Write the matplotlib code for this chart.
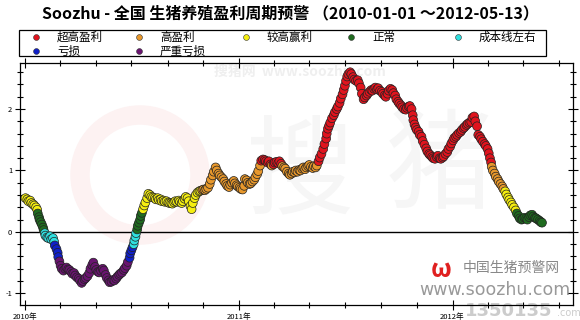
import numpy as np
import pandas as pd
import matplotlib
matplotlib.use("Agg")
import matplotlib.pyplot as plt
import matplotlib.dates as mdates
from matplotlib.patches import Rectangle, Ellipse

plt.rcParams['font.family'] = ['Noto Sans CJK SC', 'DejaVu Sans']
plt.rcParams['axes.unicode_minus'] = False

# ── Data ──────────────────────────────────────────────────────────────────────
START = pd.Timestamp("2010-01-01")

day_offsets = [
    0, 3, 5, 8, 10, 13, 15, 18, 20, 21, 23, 24, 26, 28, 30, 31, 33, 34, 37, 39,
    42, 44, 47, 49, 50, 53, 55, 56, 58, 60, 62, 65, 68, 70, 73, 75, 78, 80, 83, 85,
    88, 91, 93, 96, 98, 101, 103, 106, 109, 111, 114, 116, 119, 121, 124, 126, 129, 132, 134, 137,
    139, 142, 144, 147, 150, 152, 155, 157, 160, 162, 165, 168, 170, 173, 175, 178, 179, 181, 183, 185,
    186, 188, 189, 191, 192, 194, 196, 197, 199, 201, 203, 205, 208, 210, 213, 215, 218, 221, 223, 226,
    228, 231, 233, 236, 238, 241, 244, 246, 249, 251, 254, 256, 259, 262, 264, 267, 269, 272, 274, 277,
    279, 282, 284, 286, 289, 291, 294, 297, 299, 302, 304, 307, 309, 312, 315, 317, 320, 322, 325, 327,
    330, 332, 335, 338, 340, 343, 345, 348, 350, 353, 356, 358, 361, 363, 366, 368, 371, 374, 375, 378,
    380, 383, 385, 388, 391, 393, 396, 398, 401, 403, 406, 409, 411, 414, 416, 419, 421, 424, 426, 429,
    432, 434, 437, 439, 442, 444, 447, 450, 452, 455, 457, 460, 462, 465, 468, 470, 473, 475, 478, 480,
    483, 485, 488, 491, 493, 496, 498, 501, 503, 506, 509, 511, 514, 515, 517, 519, 521, 524, 527, 529,
    532, 534, 537, 539, 542, 544, 546, 548, 550, 552, 555, 557, 560, 562, 565, 568, 570, 573, 575, 578,
    580, 583, 585, 588, 591, 593, 596, 598, 601, 603, 606, 609, 611, 614, 616, 619, 621, 624, 627, 629,
    632, 634, 637, 639, 642, 644, 647, 650, 652, 655, 657, 660, 662, 663, 665, 667, 669, 672, 674, 677,
    679, 682, 685, 687, 690, 692, 695, 697, 700, 703, 705, 708, 710, 713, 715, 718, 721, 723, 726, 728,
    731, 733, 736, 738, 741, 744, 746, 749, 751, 754, 756, 759, 762, 764, 767, 769, 772, 774, 777, 779,
    782, 785, 787, 790, 792, 794, 796, 797, 799, 802, 804, 807, 809, 812, 815, 817, 820, 822, 825, 827,
    830, 832, 835, 838, 840, 843, 845, 848, 850, 853, 856, 858, 861, 863, 866, 868, 871, 873, 876, 879,
    881, 883,
]

values = [
    0.55, 0.53, 0.50, 0.51, 0.47, 0.45, 0.43, 0.40, 0.36, 0.30, 0.24, 0.20, 0.16, 0.12, 0.07, 0.03, -0.02, -0.06, -0.09, -0.10,
    -0.07, -0.12, -0.10, -0.16, -0.22, -0.28, -0.34, -0.41, -0.48, -0.55, -0.60, -0.63, -0.60, -0.58, -0.61, -0.62, -0.65, -0.68, -0.67, -0.71,
    -0.74, -0.76, -0.79, -0.83, -0.80, -0.77, -0.75, -0.72, -0.67, -0.60, -0.54, -0.50, -0.57, -0.62, -0.65, -0.66, -0.63, -0.60, -0.63, -0.70,
    -0.75, -0.79, -0.82, -0.81, -0.78, -0.79, -0.76, -0.73, -0.70, -0.68, -0.66, -0.62, -0.59, -0.55, -0.49, -0.42, -0.35, -0.30, -0.25, -0.20,
    -0.14, -0.08, -0.02, 0.04, 0.10, 0.15, 0.20, 0.26, 0.31, 0.37, 0.43, 0.48, 0.55, 0.62, 0.60, 0.57, 0.56, 0.55, 0.53, 0.55,
    0.52, 0.53, 0.50, 0.51, 0.49, 0.50, 0.48, 0.47, 0.47, 0.46, 0.48, 0.50, 0.49, 0.51, 0.49, 0.47, 0.50, 0.54, 0.57, 0.55,
    0.50, 0.42, 0.37, 0.47, 0.55, 0.60, 0.64, 0.66, 0.67, 0.68, 0.69, 0.68, 0.70, 0.72, 0.78, 0.85, 0.92, 0.98, 1.05, 1.00,
    0.95, 0.92, 0.89, 0.86, 0.82, 0.78, 0.75, 0.73, 0.77, 0.80, 0.83, 0.79, 0.76, 0.74, 0.72, 0.70, 0.69, 0.75, 0.86, 0.84,
    0.80, 0.78, 0.79, 0.82, 0.85, 0.89, 0.94, 0.99, 1.08, 1.16, 1.18, 1.17, 1.15, 1.13, 1.15, 1.10, 1.08, 1.10, 1.13, 1.14,
    1.12, 1.15, 1.11, 1.07, 1.05, 1.03, 0.98, 0.95, 0.93, 0.95, 0.98, 0.97, 1.00, 0.98, 1.01, 1.00, 1.03, 1.05, 1.02, 1.05,
    1.07, 1.09, 1.06, 1.04, 1.07, 1.05, 1.08, 1.15, 1.21, 1.27, 1.35, 1.43, 1.52, 1.60, 1.68, 1.73, 1.78, 1.85, 1.90, 1.95,
    2.00, 2.04, 2.10, 2.17, 2.24, 2.31, 2.38, 2.46, 2.53, 2.57, 2.60, 2.57, 2.52, 2.48, 2.46, 2.47, 2.42, 2.35, 2.25, 2.16,
    2.19, 2.22, 2.25, 2.28, 2.31, 2.30, 2.33, 2.35, 2.32, 2.34, 2.30, 2.28, 2.25, 2.22, 2.20, 2.25, 2.30, 2.33, 2.31, 2.26,
    2.22, 2.16, 2.12, 2.09, 2.06, 2.03, 2.00, 1.99, 2.02, 2.04, 2.05, 2.00, 1.90, 1.82, 1.75, 1.70, 1.66, 1.63, 1.58, 1.55,
    1.48, 1.42, 1.36, 1.31, 1.27, 1.25, 1.22, 1.20, 1.19, 1.22, 1.24, 1.20, 1.19, 1.21, 1.23, 1.27, 1.30, 1.35, 1.39, 1.44,
    1.49, 1.53, 1.55, 1.58, 1.61, 1.63, 1.66, 1.69, 1.71, 1.74, 1.76, 1.78, 1.79, 1.86, 1.88, 1.80, 1.72, 1.58, 1.55, 1.51,
    1.47, 1.43, 1.40, 1.35, 1.28, 1.20, 1.13, 1.06, 1.00, 0.95, 0.90, 0.86, 0.82, 0.78, 0.74, 0.70, 0.66, 0.61, 0.56, 0.52,
    0.48, 0.44, 0.40, 0.35, 0.30, 0.26, 0.22, 0.20, 0.21, 0.23, 0.22, 0.20, 0.24, 0.27, 0.28, 0.25, 0.23, 0.22, 0.20, 0.18,
    0.16, 0.15,
]

levels = ["超高盈利", "高盈利", "较高赢利", "正常", "成本线左右", "亏损", "严重亏损"]
level_colors = ["#e0141e", "#e8982c", "#f5ee10", "#1f6b1f", "#30e0e0", "#1020c8", "#6a1470"]
level_bounds = [1.1, 0.675, 0.35, 0.0, -0.2, -0.45]  # lower edge of each level

TITLE = "Soozhu - 全国 生猪养殖盈利周期预警 （2010-01-01 ～2012-05-13）"

# ── Prepare ───────────────────────────────────────────────────────────────────
dates = START + pd.to_timedelta(day_offsets, unit="D")
vals = np.array(values)
level_idx = np.sum(vals[:, None] < np.array(level_bounds)[None, :], axis=1)
point_colors = np.array(level_colors)[level_idx]

W, H = 580, 320
fig = plt.figure(figsize=(W / 100, H / 100), dpi=100)
fig.patch.set_facecolor("white")

# pixel-space overlay for legend, logo and watermarks
lax = fig.add_axes([0, 0, 1, 1], facecolor="none")
lax.set_xlim(0, W)
lax.set_ylim(H, 0)
lax.axis("off")

# plot area
ax = fig.add_axes([20 / W, 15 / H, 553 / W, 242 / H], facecolor="none")

# faint background watermark
lax.add_patch(Ellipse((140, 175), 120, 120, fill=False, edgecolor="#fdf2f2",
                      linewidth=14, zorder=0))
lax.text(300, 175, "搜", fontsize=78, color="#f6f6f6", ha="center", va="center", zorder=0)
lax.text(440, 170, "猪", fontsize=78, color="#f6f6f6", ha="center", va="center", zorder=0)
lax.text(300, 72, "搜猪网  www.soozhu.com", fontsize=10, color="#efefef",
         ha="center", va="center", fontweight="bold", zorder=0)

ax.axhline(0, color="black", linewidth=1.0, zorder=2)
ax.scatter(dates, vals, c=point_colors, s=40, edgecolors="#222222",
           linewidths=0.5, zorder=3)

ax.set_xlim(START - pd.Timedelta(days=9.4), START + pd.Timedelta(days=936))
ax.set_ylim(-1.19, 2.75)

ax.xaxis.set_major_locator(mdates.YearLocator())
ax.xaxis.set_major_formatter(mdates.DateFormatter("%Y年"))
ax.xaxis.set_minor_locator(mdates.MonthLocator(bymonth=[3, 5, 7, 9, 11]))
ax.yaxis.set_major_locator(plt.MultipleLocator(1))
ax.yaxis.set_minor_locator(plt.MultipleLocator(0.2))

ax.tick_params(which="both", direction="inout", top=True, right=True,
               width=0.8, labelsize=5.5, pad=2)
ax.tick_params(which="major", length=7)
ax.tick_params(which="minor", length=5)
for sp in ax.spines.values():
    sp.set_linewidth(0.9)

# ── Legend (box above the plot) ───────────────────────────────────────────────
lax.add_patch(Rectangle((19, 30), 527, 26, fill=False, edgecolor="black", linewidth=0.9))
legend_cols = [36, 139, 246, 351, 458]
legend_rows = [37, 51]
for i, (name, col) in enumerate(zip(levels, level_colors)):
    r, c = divmod(i, 5)
    lax.plot(legend_cols[c], legend_rows[r], "o", ms=4.2, color=col,
             markeredgecolor="#333333", markeredgewidth=0.4)
    lax.text(legend_cols[c] + 21, legend_rows[r], name, fontsize=8.3,
             va="center", ha="left")

# title
fig.text(0.5, 1 - 13 / H, TITLE, ha="center", va="center",
         fontsize=11.5, fontweight="bold")

# site logo, bottom right
lax.text(441, 270, "ω", fontsize=18, color="#e02020", ha="center", va="center",
         fontweight="bold", zorder=1)
lax.text(511, 268, "中国生猪预警网", fontsize=10, color="#888888",
         ha="center", va="center", zorder=1)
lax.text(495, 290, "www.soozhu.com", fontsize=12.5, color="#999999",
         ha="center", va="center", family=["DejaVu Sans"], zorder=1)
lax.text(552, 311, "1350135", fontsize=13, color="#cccccc", ha="right",
         va="center", fontweight="bold", family=["DejaVu Sans"], zorder=0)
lax.text(557, 313, ".com", fontsize=7, color="#cccccc", ha="left",
         va="center", family=["DejaVu Sans"], zorder=0)

fig.savefig("out.png", dpi=100)
